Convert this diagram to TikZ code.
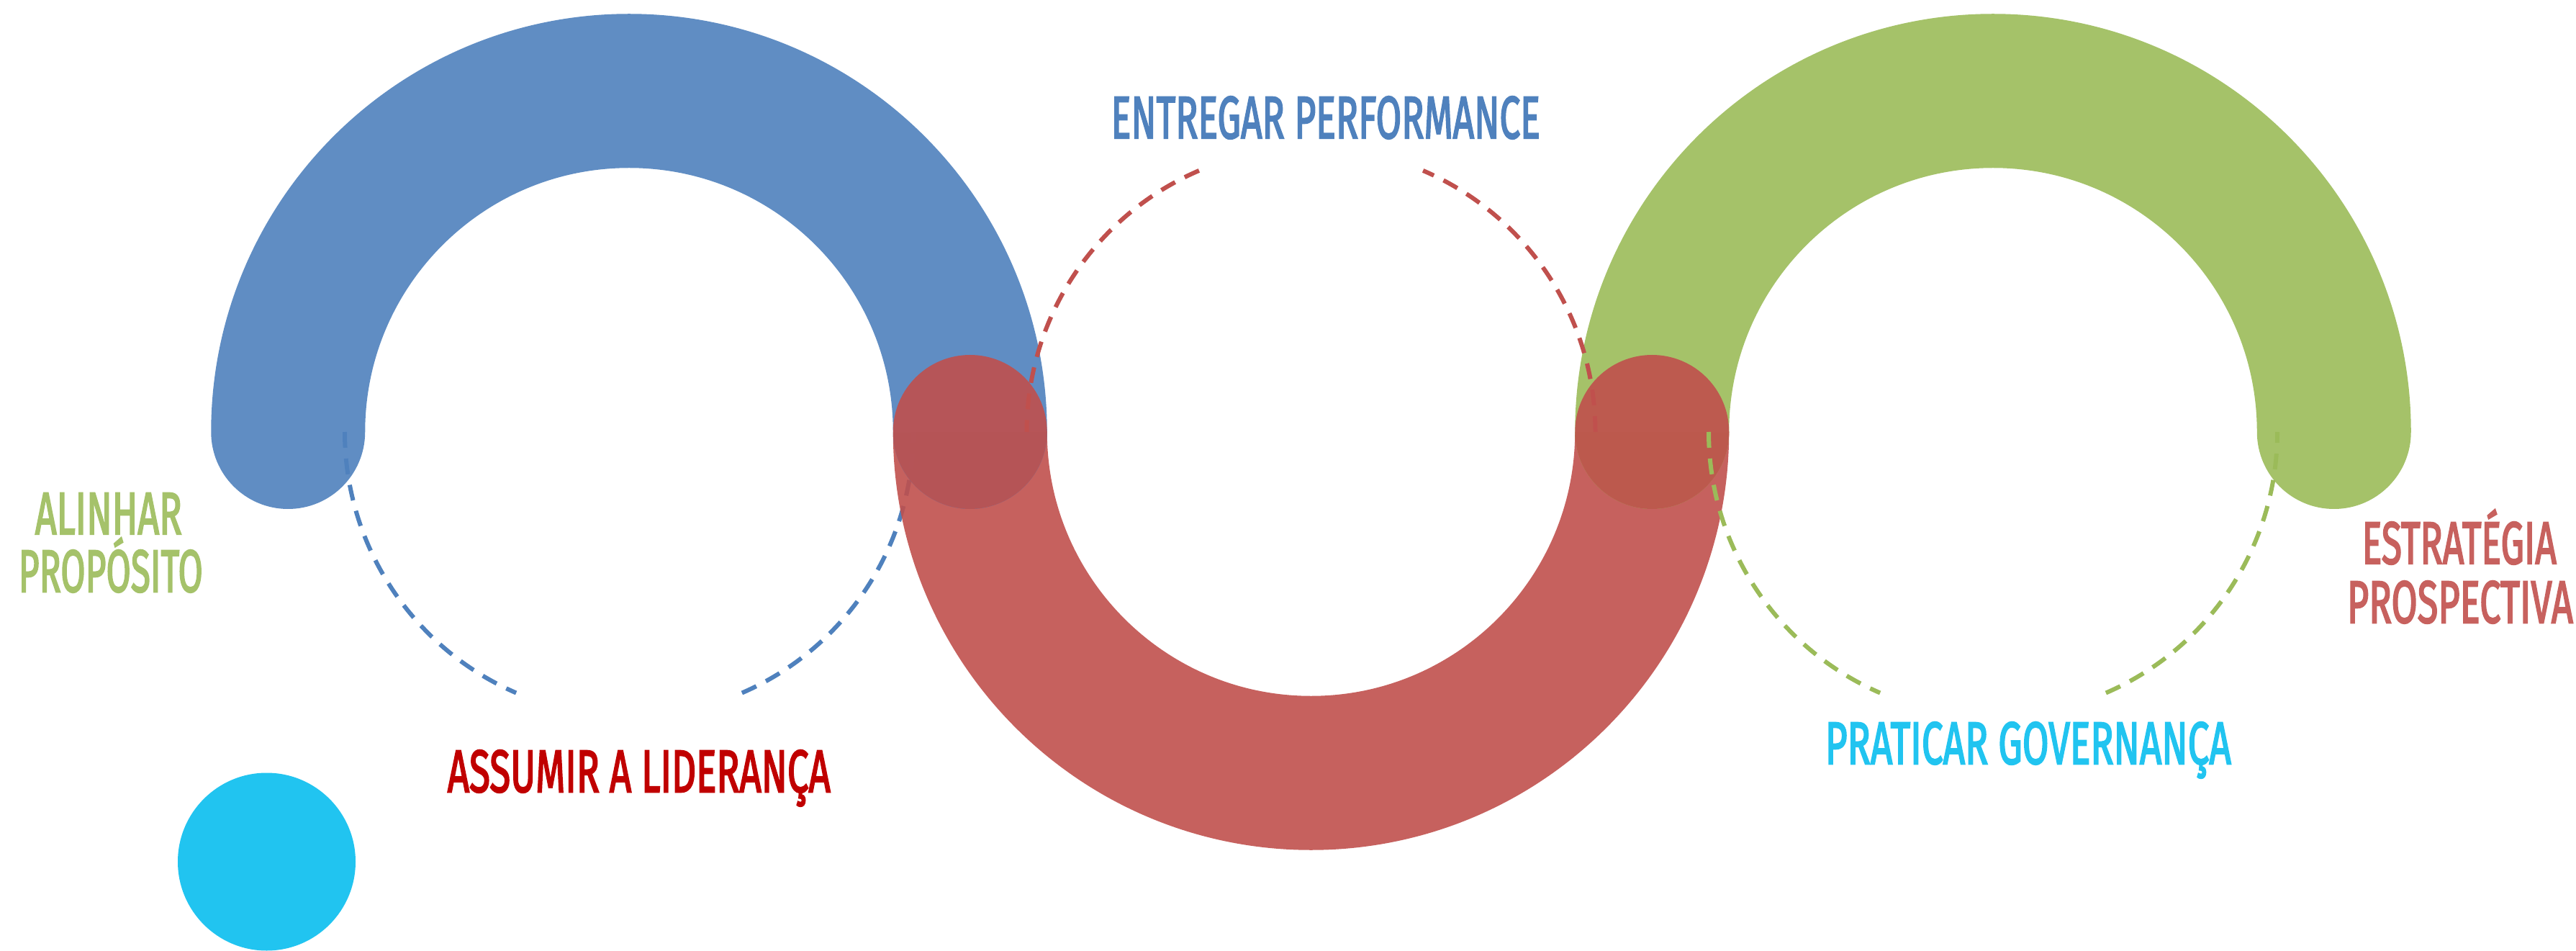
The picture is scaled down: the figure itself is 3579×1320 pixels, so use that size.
\documentclass[tikz,border=0pt]{standalone}
\usepackage{fontspec}
\usepackage{graphicx}
\setmainfont{Fira Sans}
\newfontfamily\lblfont[FakeBold=3]{Fira Sans}
\definecolor{blueA}{RGB}{79,129,189}
\definecolor{redA}{RGB}{192,80,77}
\definecolor{greenA}{RGB}{155,187,89}
\definecolor{cyanA}{RGB}{33,196,240}
\definecolor{greenT}{RGB}{165,194,106}
\definecolor{redT}{RGB}{199,97,94}
\definecolor{darkred}{RGB}{192,0,0}
\tikzset{
  band/.style={line width=53.5pt, draw opacity=0.9},
  dashring/.style={line width=1.5pt, dash pattern=on 5.5pt off 3.75pt},
  joint/.style={circle, fill=redA, fill opacity=0.9, inner sep=0pt, minimum size=53.5pt},
  lbl/.style={anchor=base west, inner sep=0pt, font=\lblfont\fontsize{20.7}{20.7}\selectfont},
}
\begin{document}
\begin{tikzpicture}[x=0.25pt,y=0.25pt]
\useasboundingbox (0,0) rectangle (3579,1320);
% centres
\coordinate (cB) at (874,720);
\coordinate (cR) at (1821.5,720);
\coordinate (cG) at (2769,720);
% blue dashed ring
\draw[dashring, blueA] (874,720) ++(180:395) arc[start angle=180, end angle=246.6, radius=395];
\draw[dashring, blueA] (874,720) ++(293.4:395) arc[start angle=293.4, end angle=360, radius=395];
% bands
\draw[band, redA] (1347.75,720) arc[start angle=180, end angle=360, radius=473.75];
\draw[band, blueA, line cap=round] (400.25,720) arc[start angle=180, end angle=0, radius=473.75];
\draw[band, greenA, line cap=round] (2295.25,720) arc[start angle=180, end angle=0, radius=473.75];
% red dashed ring
\draw[dashring, redA] (1821.5,720) ++(0:395) arc[start angle=0, end angle=66.8, radius=395];
\draw[dashring, redA] (1821.5,720) ++(113.2:395) arc[start angle=113.2, end angle=180, radius=395];
% joints
\node[joint] (j1) at (1347.75,720) {};
\node[joint] (j2) at (2295.25,720) {};
% green dashed ring
\draw[dashring, greenA] (2769,720) ++(180:395) arc[start angle=180, end angle=246.6, radius=395];
\draw[dashring, greenA] (2769,720) ++(293.4:395) arc[start angle=293.4, end angle=360, radius=395];
% cyan dot
\node[circle, fill=cyanA, inner sep=0pt, minimum size=61.75pt] (dot) at (370.5,123) {};
% labels
\node[lbl, text=blueA] (entregar) at (1543,1128) {\resizebox{149pt}{\height}{ENTREGAR PERFORMANCE}};
\node[lbl, text=greenT] (alinhar) at (48,578) {\resizebox{51pt}{\height}{ALINHAR}};
\node[lbl, text=greenT] (proposito) at (25,498) {\resizebox{64pt}{\height}{PROPÓSITO}};
\node[lbl, text=darkred] (assumir) at (621,220) {\resizebox{133pt}{\height}{ASSUMIR A LIDERANÇA}};
\node[lbl, text=cyanA] (praticar) at (2535,259) {\resizebox{141pt}{\height}{PRATICAR GOVERNANÇA}};
\node[lbl, text=redT] (estrategia) at (3281,537) {\resizebox{67.5pt}{\height}{ESTRATÉGIA}};
\node[lbl, text=redT] (prospectiva) at (3260,455) {\resizebox{78.5pt}{\height}{PROSPECTIVA}};
\end{tikzpicture}
\end{document}
